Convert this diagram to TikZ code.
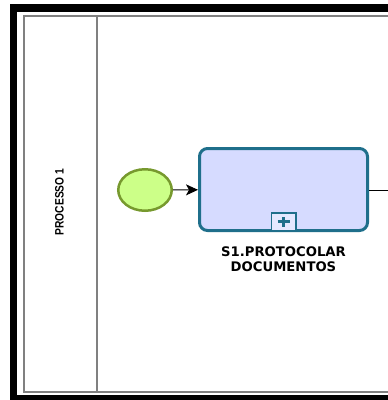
\documentclass[tikz,border=0pt]{standalone}
\usepackage{fontspec}
\setmainfont{DejaVu Sans}
\newfontfamily\lanefont[FakeStretch=0.84]{Liberation Sans}
\usetikzlibrary{shapes.geometric,arrows.meta,positioning}

\definecolor{evfill}{HTML}{CCFF88}
\definecolor{evline}{HTML}{77992E}
\definecolor{taskfill}{HTML}{D6DBFF}
\definecolor{taskline}{HTML}{1F6F8B}
\definecolor{markfill}{HTML}{E4E8FF}
\definecolor{poolline}{HTML}{808080}

\begin{document}
\begin{tikzpicture}[x=1pt,y=-1pt,
	event/.style={ellipse,draw=evline,fill=evfill,line width=2.5pt,
		minimum width=53.5pt,minimum height=41.5pt,inner sep=0pt},
	task/.style={draw=taskline,fill=taskfill,line width=3pt,rounded corners=8pt,
		minimum width=168pt,minimum height=82pt,inner sep=0pt},
	marker/.style={draw=taskline,fill=markfill,line width=1.5pt,
		minimum width=24.5pt,minimum height=17.5pt,inner sep=0pt},
	flow/.style={line width=1pt,-{Stealth[length=12pt,width=11pt,inset=3pt]}},
	pool/.style={draw=poolline,line width=1.5pt}]
	\useasboundingbox (0,0) rectangle (388,400);
	\clip (0,0) rectangle (388,400);

	% outer frame, open to the right
	\draw[line width=7.5pt] (392,8) -- (13.5,8) -- (13.5,398.5) -- (392,398.5);

	% pool with one lane
	\draw[pool] (392,16) -- (24,16) -- (24,392) -- (392,392);
	\draw[pool] (97,16) coordinate (lt) -- (97,392) coordinate (lb);
	\node[rotate=90,font=\lanefont\bfseries\fontsize{12.2}{14}\selectfont] (lane) at (59.5,202) {PROCESSO 1};

	% start event and collapsed subprocess
	\node[event] (start) at (145,190) {};
	\node[task] (s1) at (283.5,189.5) {};
	\node[marker,anchor=south] (sub) at ([yshift=1pt]s1.south) {};
	\draw[taskline,line width=3pt]
	([xshift=-6pt]sub.center) -- ([xshift=6pt]sub.center)
	([yshift=-5pt]sub.center) -- ([yshift=5pt]sub.center);
	\node[anchor=north,align=center,inner sep=0pt,
		font=\bfseries\fontsize{13.2}{15.7}\selectfont] (s1text)
		at ([yshift=-14pt]s1.south) {S1.PROTOCOLAR\\DOCUMENTOS};

	% sequence flows
	\coordinate (out) at (392,190);
	\draw[flow] (start) -- (s1);
	\draw[line width=1pt] (s1.east |- out) -- (out);
\end{tikzpicture}
\end{document}
